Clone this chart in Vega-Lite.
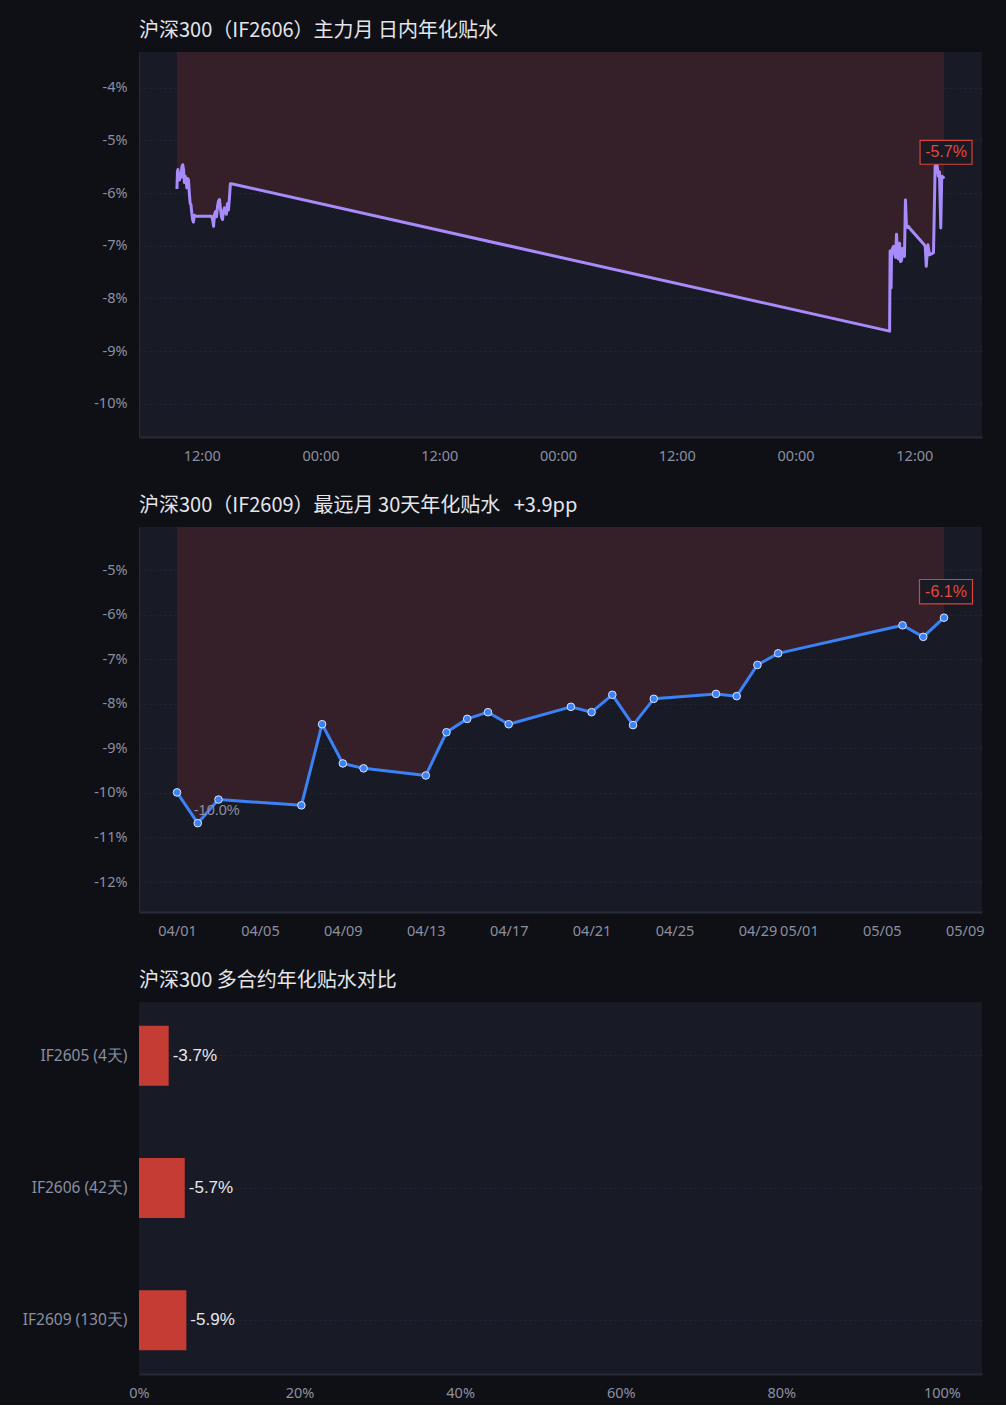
{
  "$schema": "https://vega.github.io/schema/vega-lite/v6.json",
  "background": "#0f1015",
  "padding": {"left": 14, "top": 21, "right": 24, "bottom": 5},
  "spacing": 33,
  "config": {
    "view": {"fill": "#181a26", "stroke": null},
    "title": {"anchor": "start", "frame": "group", "color": "#e3e5ea", "fontSize": 20, "font": "Noto Sans CJK SC", "fontWeight": "normal", "offset": 11},
    "axis": {
      "labelColor": "#8b8fa1", "labelFont": "Noto Sans", "labelFontSize": 14.5,
      "domainColor": "#272a38", "gridColor": "#232636", "gridDash": [2, 3],
      "ticks": false, "labelPadding": 12, "labelOverlap": false
    },
    "axisX": {"domainWidth": 2, "grid": false, "labelPadding": 12, "labelFlush": false},
    "axisY": {"minExtent": 125, "maxExtent": 125}
  },
  "datasets": {
    "intraday": [
      {"t": "2026-05-05T09:30:00", "v": -5.92}, {"t": "2026-05-05T09:33:00", "v": -5.6},
      {"t": "2026-05-05T09:36:00", "v": -5.55}, {"t": "2026-05-05T09:40:00", "v": -5.72},
      {"t": "2026-05-05T09:45:00", "v": -5.75}, {"t": "2026-05-05T09:50:00", "v": -5.62},
      {"t": "2026-05-05T09:55:00", "v": -5.7}, {"t": "2026-05-05T10:00:00", "v": -5.5},
      {"t": "2026-05-05T10:05:00", "v": -5.46}, {"t": "2026-05-05T10:10:00", "v": -5.55},
      {"t": "2026-05-05T10:15:00", "v": -5.8}, {"t": "2026-05-05T10:20:00", "v": -5.68},
      {"t": "2026-05-05T10:25:00", "v": -5.75}, {"t": "2026-05-05T10:30:00", "v": -5.9},
      {"t": "2026-05-05T10:35:00", "v": -5.72}, {"t": "2026-05-05T10:40:00", "v": -5.75},
      {"t": "2026-05-05T10:45:00", "v": -6.0}, {"t": "2026-05-05T10:50:00", "v": -6.19},
      {"t": "2026-05-05T10:55:00", "v": -6.22}, {"t": "2026-05-05T11:00:00", "v": -6.38},
      {"t": "2026-05-05T11:05:00", "v": -6.5}, {"t": "2026-05-05T11:10:00", "v": -6.55},
      {"t": "2026-05-05T11:15:00", "v": -6.42}, {"t": "2026-05-05T11:20:00", "v": -6.43},
      {"t": "2026-05-05T11:25:00", "v": -6.44}, {"t": "2026-05-05T11:30:00", "v": -6.44},
      {"t": "2026-05-05T13:00:00", "v": -6.44}, {"t": "2026-05-05T13:06:00", "v": -6.5},
      {"t": "2026-05-05T13:12:00", "v": -6.63}, {"t": "2026-05-05T13:18:00", "v": -6.4},
      {"t": "2026-05-05T13:24:00", "v": -6.35}, {"t": "2026-05-05T13:30:00", "v": -6.45},
      {"t": "2026-05-05T13:36:00", "v": -6.25}, {"t": "2026-05-05T13:42:00", "v": -6.15},
      {"t": "2026-05-05T13:48:00", "v": -6.12}, {"t": "2026-05-05T13:54:00", "v": -6.3},
      {"t": "2026-05-05T14:00:00", "v": -6.45}, {"t": "2026-05-05T14:06:00", "v": -6.5},
      {"t": "2026-05-05T14:12:00", "v": -6.35}, {"t": "2026-05-05T14:18:00", "v": -6.28},
      {"t": "2026-05-05T14:24:00", "v": -6.3}, {"t": "2026-05-05T14:30:00", "v": -6.4},
      {"t": "2026-05-05T14:36:00", "v": -6.2}, {"t": "2026-05-05T14:42:00", "v": -6.32},
      {"t": "2026-05-05T14:48:00", "v": -6.1}, {"t": "2026-05-05T14:54:00", "v": -5.82},
      {"t": "2026-05-05T15:00:00", "v": -5.82},
      {"t": "2026-05-08T09:30:00", "v": -8.62}, {"t": "2026-05-08T09:33:00", "v": -7.1},
      {"t": "2026-05-08T09:36:00", "v": -7.35}, {"t": "2026-05-08T09:39:00", "v": -7.8},
      {"t": "2026-05-08T09:42:00", "v": -7.1}, {"t": "2026-05-08T09:48:00", "v": -7.05},
      {"t": "2026-05-08T09:54:00", "v": -7.01}, {"t": "2026-05-08T10:00:00", "v": -7.15},
      {"t": "2026-05-08T10:06:00", "v": -7.22}, {"t": "2026-05-08T10:12:00", "v": -6.78},
      {"t": "2026-05-08T10:18:00", "v": -7.2}, {"t": "2026-05-08T10:24:00", "v": -7.25},
      {"t": "2026-05-08T10:30:00", "v": -6.95}, {"t": "2026-05-08T10:36:00", "v": -7.3},
      {"t": "2026-05-08T10:42:00", "v": -7.28}, {"t": "2026-05-08T10:48:00", "v": -7.05},
      {"t": "2026-05-08T10:54:00", "v": -7.15}, {"t": "2026-05-08T11:00:00", "v": -7.2},
      {"t": "2026-05-08T11:06:00", "v": -6.13}, {"t": "2026-05-08T11:12:00", "v": -6.62},
      {"t": "2026-05-08T11:18:00", "v": -6.65}, {"t": "2026-05-08T11:24:00", "v": -6.63},
      {"t": "2026-05-08T11:30:00", "v": -6.66}, {"t": "2026-05-08T13:00:00", "v": -6.98},
      {"t": "2026-05-08T13:06:00", "v": -7.01}, {"t": "2026-05-08T13:12:00", "v": -7.39},
      {"t": "2026-05-08T13:22:00", "v": -6.98}, {"t": "2026-05-08T13:32:00", "v": -7.17},
      {"t": "2026-05-08T13:46:00", "v": -7.15}, {"t": "2026-05-08T13:56:00", "v": -7.13},
      {"t": "2026-05-08T14:06:00", "v": -5.49}, {"t": "2026-05-08T14:16:00", "v": -5.43},
      {"t": "2026-05-08T14:26:00", "v": -5.68}, {"t": "2026-05-08T14:32:00", "v": -5.6},
      {"t": "2026-05-08T14:40:00", "v": -6.66}, {"t": "2026-05-08T14:46:00", "v": -5.68},
      {"t": "2026-05-08T14:56:00", "v": -5.7}, {"t": "2026-05-08T15:00:00", "v": -5.68}
    ],
    "intradayLast": [{"t": "2026-05-08T15:00:00", "v": -5.68, "label": "-5.7%"}],
    "far": [
      {"d": "2026-04-01T00:00:00", "v": -9.99}, {"d": "2026-04-02T00:00:00", "v": -10.68},
      {"d": "2026-04-03T00:00:00", "v": -10.15}, {"d": "2026-04-07T00:00:00", "v": -10.28},
      {"d": "2026-04-08T00:00:00", "v": -8.46}, {"d": "2026-04-09T00:00:00", "v": -9.34},
      {"d": "2026-04-10T00:00:00", "v": -9.45}, {"d": "2026-04-13T00:00:00", "v": -9.61},
      {"d": "2026-04-14T00:00:00", "v": -8.64}, {"d": "2026-04-15T00:00:00", "v": -8.34},
      {"d": "2026-04-16T00:00:00", "v": -8.19}, {"d": "2026-04-17T00:00:00", "v": -8.46},
      {"d": "2026-04-20T00:00:00", "v": -8.07}, {"d": "2026-04-21T00:00:00", "v": -8.19},
      {"d": "2026-04-22T00:00:00", "v": -7.8}, {"d": "2026-04-23T00:00:00", "v": -8.48},
      {"d": "2026-04-24T00:00:00", "v": -7.89}, {"d": "2026-04-27T00:00:00", "v": -7.78},
      {"d": "2026-04-28T00:00:00", "v": -7.83}, {"d": "2026-04-29T00:00:00", "v": -7.13},
      {"d": "2026-04-30T00:00:00", "v": -6.87}, {"d": "2026-05-06T00:00:00", "v": -6.24},
      {"d": "2026-05-07T00:00:00", "v": -6.5}, {"d": "2026-05-08T00:00:00", "v": -6.07}
    ],
    "farLast": [{"d": "2026-05-08T00:00:00", "v": -6.07, "label": "-6.1%"}],
    "farNote": [{"d": "2026-04-02T00:00:00", "v": -10.68, "label": "-10.0%"}],
    "contracts": [
      {"name": "IF2605 (4天)", "abs": 3.7, "label": "-3.7%"},
      {"name": "IF2606 (42天)", "abs": 5.7, "label": "-5.7%"},
      {"name": "IF2609 (130天)", "abs": 5.9, "label": "-5.9%"}
    ]
  },
  "vconcat": [
    {
      "width": 843,
      "height": 385,
      "title": "沪深300（IF2606）主力月 日内年化贴水",
      "encoding": {
        "x": {
          "field": "t", "type": "temporal",
          "scale": {"domain": [
            {"year": 2026, "month": 5, "date": 5, "hours": 5, "minutes": 40},
            {"year": 2026, "month": 5, "date": 8, "hours": 18, "minutes": 50}
          ]},
          "axis": {
            "format": "%H:%M", "title": null,
            "values": [
              {"year": 2026, "month": 5, "date": 5, "hours": 12},
              {"year": 2026, "month": 5, "date": 6, "hours": 0},
              {"year": 2026, "month": 5, "date": 6, "hours": 12},
              {"year": 2026, "month": 5, "date": 7, "hours": 0},
              {"year": 2026, "month": 5, "date": 7, "hours": 12},
              {"year": 2026, "month": 5, "date": 8, "hours": 0},
              {"year": 2026, "month": 5, "date": 8, "hours": 12}
            ]
          }
        },
        "y": {
          "field": "v", "type": "quantitative",
          "scale": {"domain": [-10.63, -3.32], "nice": false, "zero": false},
          "axis": {"values": [-4, -5, -6, -7, -8, -9, -10], "labelExpr": "datum.value + '%'", "grid": true, "title": null}
        }
      },
      "layer": [
        {
          "data": {"name": "intraday"},
          "mark": {"type": "area", "clip": true, "color": "#35202a"},
          "encoding": {"y2": {"datum": 0}}
        },
        {
          "data": {"name": "intraday"},
          "mark": {"type": "line", "color": "#a78bfa", "strokeWidth": 3, "strokeJoin": "round"},
          "encoding": {}
        },
        {
          "data": {"name": "intradayLast"},
          "mark": {
            "type": "point", "filled": true, "opacity": 1, "fill": "#191a24", "stroke": "#d9443a", "strokeWidth": 1.2,
            "shape": "M-1,-0.46L1,-0.46L1,0.46L-1,0.46Z",
            "size": 2704, "yOffset": -24, "xOffset": 2
          },
          "encoding": {}
        },
        {
          "data": {"name": "intradayLast"},
          "mark": {"type": "text", "color": "#e5483c", "fontSize": 16, "dy": -24, "dx": 2},
          "encoding": {"text": {"field": "label"}}
        }
      ]
    },
    {
      "width": 843,
      "height": 385,
      "title": "沪深300（IF2609）最远月 30天年化贴水\u00a0\u00a0\u00a0+3.9pp",
      "encoding": {
        "x": {
          "field": "d", "type": "temporal",
          "scale": {"domain": [
            {"year": 2026, "month": 3, "date": 30, "hours": 4},
            {"year": 2026, "month": 5, "date": 9, "hours": 20}
          ]},
          "axis": {
            "format": "%m/%d", "title": null,
            "values": [
              {"year": 2026, "month": 4, "date": 1}, {"year": 2026, "month": 4, "date": 5},
              {"year": 2026, "month": 4, "date": 9}, {"year": 2026, "month": 4, "date": 13},
              {"year": 2026, "month": 4, "date": 17}, {"year": 2026, "month": 4, "date": 21},
              {"year": 2026, "month": 4, "date": 25}, {"year": 2026, "month": 4, "date": 29},
              {"year": 2026, "month": 5, "date": 1}, {"year": 2026, "month": 5, "date": 5},
              {"year": 2026, "month": 5, "date": 9}
            ]
          }
        },
        "y": {
          "field": "v", "type": "quantitative",
          "scale": {"domain": [-12.673, -4.035], "nice": false, "zero": false},
          "axis": {"values": [-5, -6, -7, -8, -9, -10, -11, -12], "labelExpr": "datum.value + '%'", "grid": true, "title": null}
        }
      },
      "layer": [
        {
          "data": {"name": "far"},
          "mark": {"type": "area", "clip": true, "color": "#35202a"},
          "encoding": {"y2": {"datum": 0}}
        },
        {
          "data": {"name": "far"},
          "mark": {"type": "line", "color": "#3b82f6", "strokeWidth": 3, "strokeJoin": "round"},
          "encoding": {}
        },
        {
          "data": {"name": "far"},
          "mark": {"type": "point", "filled": true, "opacity": 1, "fill": "#3b82f6", "stroke": "#dbe4ff", "strokeWidth": 1, "size": 58},
          "encoding": {}
        },
        {
          "data": {"name": "farNote"},
          "mark": {"type": "text", "color": "#8b8fa1", "fontSize": 14.5, "align": "left", "dx": -4, "dy": -12},
          "encoding": {"text": {"field": "label"}}
        },
        {
          "data": {"name": "farLast"},
          "mark": {
            "type": "point", "filled": true, "opacity": 1, "fill": "#191a24", "stroke": "#d9443a", "strokeWidth": 1.2,
            "shape": "M-1,-0.46L1,-0.46L1,0.46L-1,0.46Z",
            "size": 2809, "yOffset": -26, "xOffset": 2
          },
          "encoding": {}
        },
        {
          "data": {"name": "farLast"},
          "mark": {"type": "text", "color": "#e5483c", "fontSize": 16, "dy": -26, "dx": 2},
          "encoding": {"text": {"field": "label"}}
        }
      ]
    },
    {
      "width": 843,
      "height": 372,
      "title": "沪深300 多合约年化贴水对比",
      "data": {"name": "contracts"},
      "encoding": {
        "y": {
          "field": "name", "type": "nominal", "sort": null,
          "scale": {"paddingInner": 0.547, "paddingOuter": 0.18},
          "axis": {"grid": true, "domain": false, "title": null, "labelFontSize": 15.5}
        },
        "x": {
          "field": "abs", "type": "quantitative",
          "scale": {"domain": [0, 105], "nice": false},
          "axis": {"values": [0, 20, 40, 60, 80, 100], "labelExpr": "datum.value + '%'", "title": null}
        }
      },
      "layer": [
        {"mark": {"type": "bar", "color": "#c43c34"}},
        {
          "mark": {"type": "text", "align": "left", "dx": 4, "color": "#e8e8ec", "fontSize": 17},
          "encoding": {"text": {"field": "label"}}
        }
      ]
    }
  ]
}
